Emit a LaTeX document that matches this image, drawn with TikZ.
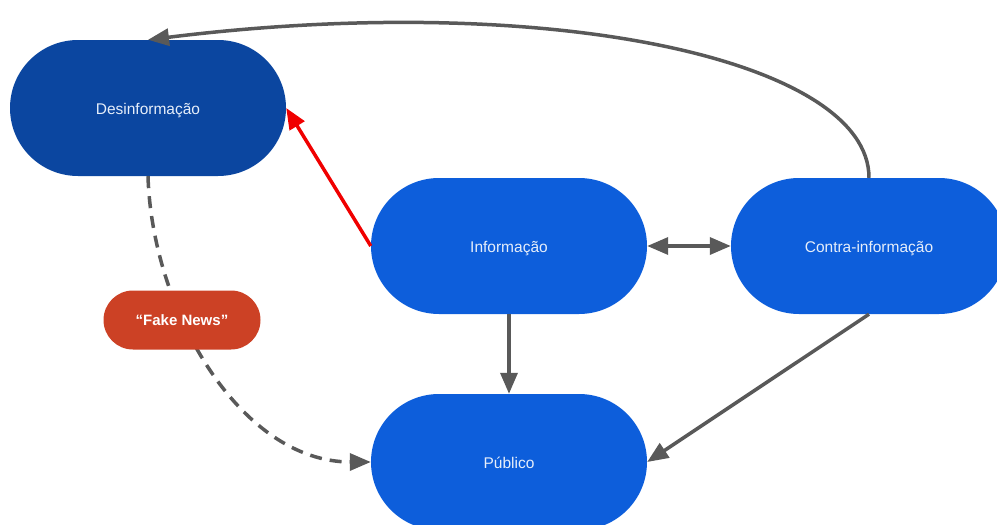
\documentclass[tikz,border=0pt]{standalone}
\usepackage{fontspec}
\setmainfont{Liberation Sans}
\usetikzlibrary{arrows.meta}
\definecolor{darkblue}{HTML}{0B46A0}
\definecolor{brightblue}{HTML}{0D5EDB}
\definecolor{fakered}{HTML}{CC4125}
\definecolor{arrowgray}{HTML}{595959}
\definecolor{arrowred}{HTML}{F00000}
\definecolor{lighttext}{HTML}{E6EEFA}
\newcommand{\lowtext}[2]{\raisebox{-#1}[0pt][0pt]{#2}}
\tikzset{
  pill/.style={draw=none, rectangle, rounded corners=68pt, minimum width=276pt, minimum height=136pt,
    inner sep=0pt, text=lighttext, font=\fontsize{15.5}{18}\selectfont},
  smallpill/.style={draw=none, rectangle, rounded corners=29.5pt, minimum width=157pt, minimum height=59pt,
    inner sep=0pt, fill=fakered, text=white, font=\bfseries\fontsize{15}{18}\selectfont},
  conn/.style={draw=arrowgray, line width=3.5pt, -{Triangle[length=21pt,width=17pt]}},
  dconn/.style={conn, dash pattern=on 12pt off 8pt},
  rconn/.style={draw=arrowred, line width=3.5pt, -{Triangle[length=21pt,width=17pt]}},
}
\begin{document}
\begin{tikzpicture}[x=1pt,y=-1pt]
\useasboundingbox (0,0) rectangle (997,525);
\clip (0,0) rectangle (997,525);
\node[pill, fill=darkblue] (desin) at (148,108) {\lowtext{6.5pt}{Desinformação}};
\node[pill, fill=brightblue] (info) at (509,246) {\lowtext{6.5pt}{Informação}};
\node[pill, fill=brightblue] (contra) at (869,246) {\lowtext{6.5pt}{Contra-informação}};
\node[pill, fill=brightblue] (pub) at (509,462) {\lowtext{6.5pt}{Público}};
\draw[dconn] (desin.south) .. controls (152,310) and (240,462) .. (pub.west);
\node[smallpill] (fake) at (182,320) {\lowtext{5.5pt}{“Fake News”}};
\draw[rconn] (info.west) -- (desin.east);
\draw[conn, {Triangle[length=21pt,width=17pt]}-{Triangle[length=21pt,width=17pt]}] (info.east) -- (contra.west);
\draw[conn] (info.south) -- (pub.north);
\draw[conn] (contra.south) -- (pub.east);
\draw[conn] (contra.north) .. controls (869,60) and (550,-10) .. (desin.north);
\end{tikzpicture}
\end{document}
